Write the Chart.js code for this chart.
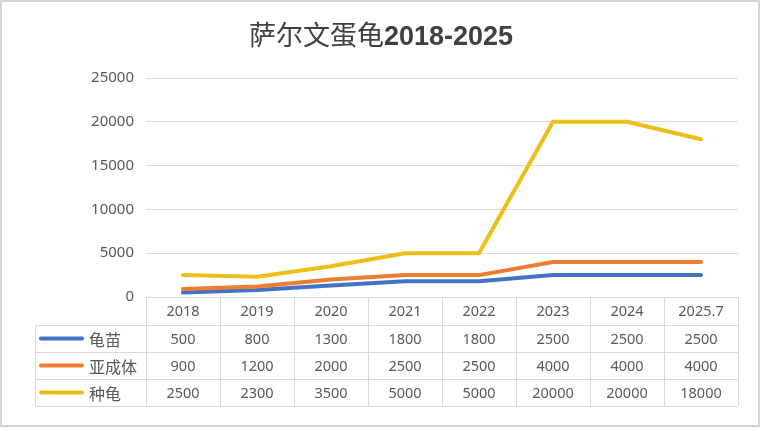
<!DOCTYPE html>
<html>
<head>
<meta charset="utf-8">
<script src="https://cdn.jsdelivr.net/npm/chart.js@4/dist/chart.umd.min.js"></script>
<style>
  html, body { margin: 0; padding: 0; background: #ffffff; }
  #wrap { width: 761px; height: 431px; position: relative; }
</style>
</head>
<body>
<div id="wrap"><canvas id="c" width="761" height="431"></canvas></div>
<script>
const titleCJK = '萨尔文蛋龟';
const titleNum = '2018-2025';
const categories = ['2018', '2019', '2020', '2021', '2022', '2023', '2024', '2025.7'];
const seriesNames = ['龟苗', '亚成体', '种龟'];
const hatchlings = [500, 800, 1300, 1800, 1800, 2500, 2500, 2500];
const subadults = [900, 1200, 2000, 2500, 2500, 4000, 4000, 4000];
const breeders = [2500, 2300, 3500, 5000, 5000, 20000, 20000, 18000];
const yMin = 0, yMax = 25000, yStep = 5000;

const colors = ['#4472C4', '#ED7D31', '#EDBE17'];
const textColor = '#595959';
const lineColor = '#D9D9D9';
const seriesValues = [hatchlings, subadults, breeders];

const tablePlugin = {
  id: 'dataTable',
  afterDraw(chart) {
    const ctx = chart.ctx;
    const xs = chart.scales.x;
    const ca = chart.chartArea;
    const n = categories.length;
    const colW = (ca.right - ca.left) / n;
    const top = ca.bottom;
    const headerH = 28;
    const rowH = 27;
    const bottom = top + headerH + rowH * seriesNames.length;
    const legendLeft = 35;
    ctx.save();
    ctx.strokeStyle = lineColor;
    ctx.lineWidth = 1;
    for (let i = 0; i <= n; i++) {
      const x = Math.round(xs.getPixelForValue(0) - colW / 2 + i * colW) + 0.5;
      ctx.beginPath(); ctx.moveTo(x, top); ctx.lineTo(x, bottom); ctx.stroke();
    }
    ctx.beginPath(); ctx.moveTo(legendLeft + 0.5, top + headerH); ctx.lineTo(legendLeft + 0.5, bottom); ctx.stroke();
    for (let r = 0; r <= seriesNames.length; r++) {
      const y = Math.round(top + headerH + r * rowH) + 0.5;
      ctx.beginPath(); ctx.moveTo(legendLeft, y); ctx.lineTo(ca.right, y); ctx.stroke();
    }
    ctx.textBaseline = 'middle';
    seriesNames.forEach((name, r) => {
      const cy = top + headerH + r * rowH + rowH / 2;
      ctx.strokeStyle = colors[r];
      ctx.lineWidth = 4;
      ctx.lineCap = 'round';
      ctx.beginPath(); ctx.moveTo(41, cy); ctx.lineTo(82, cy); ctx.stroke();
      ctx.fillStyle = textColor;
      ctx.font = '16px "Noto Sans CJK SC", sans-serif';
      ctx.textAlign = 'left';
      ctx.fillText(name, 89, cy + 1);
      ctx.font = '14.5px "Noto Sans", sans-serif';
      ctx.textAlign = 'center';
      seriesValues[r].forEach((v, i) => {
        ctx.fillText(String(v), xs.getPixelForValue(i), cy + 1);
      });
    });
    ctx.fillStyle = '#404040';
    ctx.textAlign = 'left';
    ctx.textBaseline = 'alphabetic';
    const f1 = '27px "Noto Sans CJK SC", sans-serif';
    const f2 = 'bold 27px "Liberation Sans Narrow", "Liberation Sans", sans-serif';
    ctx.font = f1; const w1 = ctx.measureText(titleCJK).width;
    ctx.font = f2; const w2 = ctx.measureText(titleNum).width;
    const x0 = 381 - (w1 + w2) / 2;
    ctx.font = f1; ctx.fillText(titleCJK, x0, 45);
    ctx.font = f2; ctx.fillText(titleNum, x0 + w1, 45);
    ctx.strokeStyle = '#D4D4D4';
    ctx.lineWidth = 2;
    ctx.strokeRect(1, 1, 758, 425);
    ctx.restore();
  }
};

const mkDs = (label, data, color, order) => ({
  label, data, borderColor: color, backgroundColor: color,
  borderWidth: 4, pointRadius: 0, tension: 0, order,
  borderCapStyle: 'round', borderJoinStyle: 'round', fill: false
});

new Chart(document.getElementById('c'), {
  type: 'line',
  data: {
    labels: categories,
    datasets: [
      mkDs(seriesNames[0], hatchlings, colors[0], 3),
      mkDs(seriesNames[1], subadults, colors[1], 2),
      mkDs(seriesNames[2], breeders, colors[2], 1)
    ]
  },
  options: {
    responsive: false,
    animation: false,
    events: [],
    layout: { padding: { top: 78, left: 0, right: 23, bottom: 25 } },
    plugins: { legend: { display: false }, title: { display: false }, tooltip: { enabled: false } },
    scales: {
      x: {
        offset: true,
        grid: { display: false, drawTicks: false },
        border: { display: true, color: lineColor, width: 1 },
        ticks: { color: textColor, font: { family: 'Noto Sans', size: 14.5 }, padding: 6, maxRotation: 0, autoSkip: false },
        afterFit(scale) { scale.height = 109; }
      },
      y: {
        min: yMin, max: yMax,
        ticks: { stepSize: yStep, color: textColor, font: { family: 'Noto Sans', size: 15 }, padding: 12, callback: (v) => String(v) },
        grid: { color: lineColor, drawTicks: false },
        border: { display: false },
        afterFit(scale) { scale.width = 146; }
      }
    }
  },
  plugins: [tablePlugin]
});
</script>
</body>
</html>
